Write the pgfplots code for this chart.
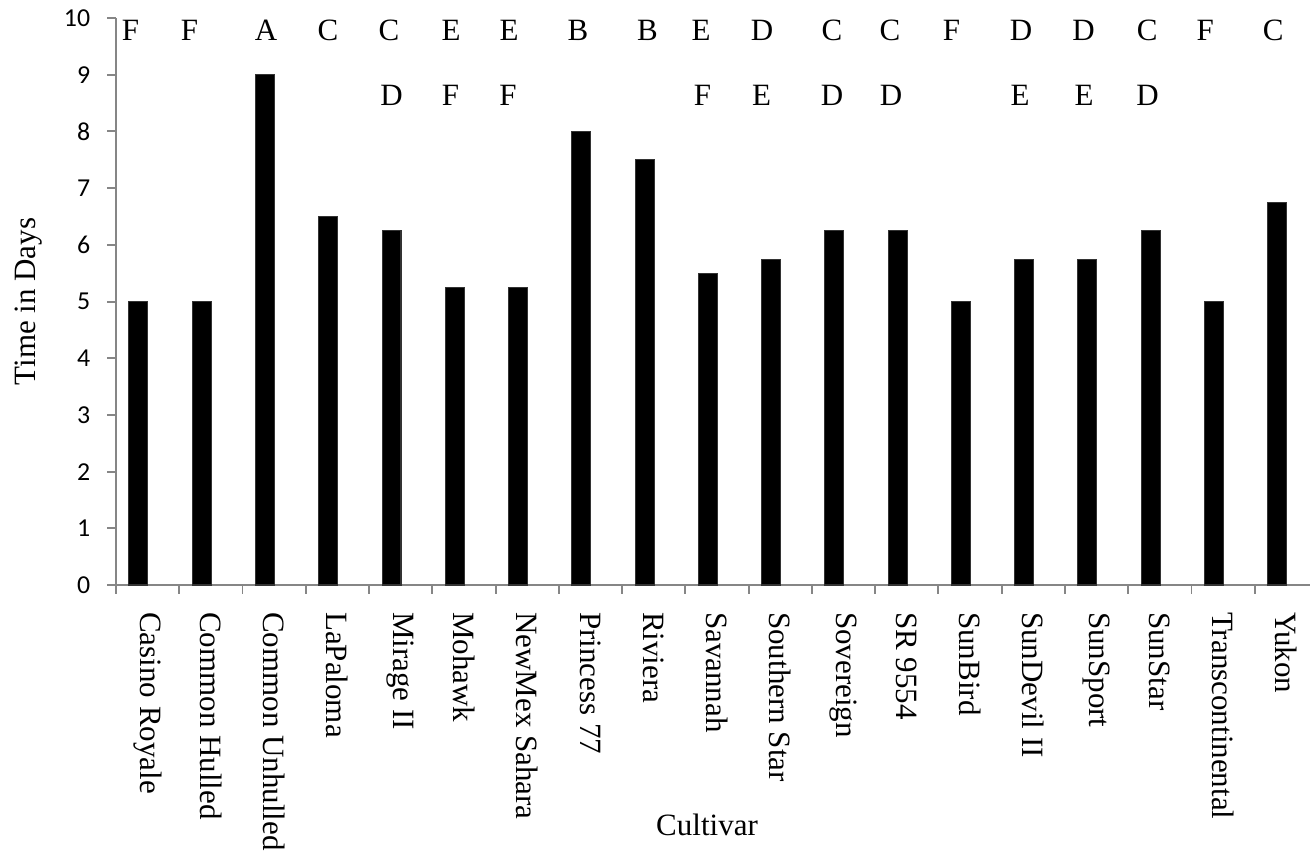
\documentclass[border=0pt]{standalone}
\usepackage{pgfplots}
\pgfplotsset{compat=1.18}
\usepackage{pgfplotstable}
\usepackage{fontspec}
\setmainfont{Liberation Serif}
\newfontfamily\calibri{Carlito}
\definecolor{axisgray}{HTML}{868686}

% bar heights, one row per cultivar
\pgfplotstableread{
x y
0 5
1 5
2 9
3 6.5
4 6.25
5 5.25
6 5.25
7 8
8 7.5
9 5.5
10 5.75
11 6.25
12 6.25
13 5
14 5.75
15 5.75
16 6.25
17 5
18 6.75
}\days

% significance letters, first and second row (x as placed in the chart)
\pgfplotstableread{
x y lab
-0.271 9.78 F
0.662 9.78 F
1.871 9.78 A
2.851 9.78 C
3.816 9.78 C
4.796 9.78 E
5.712 9.78 E
6.803 9.78 B
7.902 9.78 B
8.748 9.78 E
9.712 9.78 D
10.818 9.78 C
11.735 9.78 C
12.707 9.78 F
13.806 9.78 D
14.794 9.78 D
15.798 9.78 C
16.715 9.78 F
17.790 9.78 C
}\rowone
\pgfplotstableread{
x y lab
3.855 8.64 D
4.788 8.64 F
5.697 8.64 F
8.771 8.64 F
9.704 8.64 E
10.818 8.64 D
11.751 8.64 D
13.790 8.64 E
14.802 8.64 E
15.806 8.64 D
}\rowtwo

\begin{document}
\begin{tikzpicture}
\useasboundingbox (0pt,0pt) rectangle (506.97pt,334.37pt);
\begin{axis}[
    at={(44.89pt,107.97pt)}, anchor=south west,
    scale only axis,
    width=465.2pt, height=219.4pt,
    xmin=-0.5, xmax=18.5,
    ymin=0, ymax=10,
    axis x line*=bottom, axis y line*=left,
    axis line style={axisgray, line width=0.75pt},
    tick align=outside,
    major tick length=3.3pt,
    tick style={axisgray, line width=0.75pt},
    xtick style={axisgray},
    ytick style={axisgray},
    xtick={-0.5,0.5,...,18.5},
    xticklabels={},
    extra x ticks={0,...,18},
    extra x tick labels={Casino Royale, Common Hulled, Common Unhulled, LaPaloma,
      Mirage II, Mohawk, NewMex Sahara, Princess 77, Riviera, Savannah,
      Southern Star, Sovereign, SR 9554, SunBird, SunDevil II, SunSport,
      SunStar, Transcontinental, Yukon},
    extra x tick style={major tick length=0pt,
      xticklabel style={rotate=-90, anchor=west, inner ysep=0pt, inner xsep=10.3pt,
        font=\fontsize{12}{14}\selectfont}},
    ytick={0,...,10},
    yticklabel style={anchor=east, inner sep=0pt, xshift=-6.5pt,
      font=\calibri\fontsize{10}{12}\selectfont},
    /pgf/number format/assume math mode=true,
    xlabel={Cultivar},
    xlabel style={at={(axis description cs:0.4917,-0.4427)}, anchor=base,
      font=\fontsize{12}{14}\selectfont},
    ylabel={Time in Days},
    ylabel style={at={(axis description cs:-0.073,0.5)}, anchor=center,
      font=\fontsize{12}{14}\selectfont},
    clip=false,
  ]
  \addplot[ybar, bar width=0.30, bar shift=-0.145, fill=black, draw=black!80]
    table[x=x, y=y] {\days};
  \addplot[draw=none, mark=none, nodes near coords, point meta=explicit symbolic,
    nodes near coords style={anchor=center, inner sep=0pt,
      font=\fontsize{12}{14}\selectfont}]
    table[x=x, y=y, meta=lab] {\rowone};
  \addplot[draw=none, mark=none, nodes near coords, point meta=explicit symbolic,
    nodes near coords style={anchor=center, inner sep=0pt,
      font=\fontsize{12}{14}\selectfont}]
    table[x=x, y=y, meta=lab] {\rowtwo};
\end{axis}
\end{tikzpicture}
\end{document}
